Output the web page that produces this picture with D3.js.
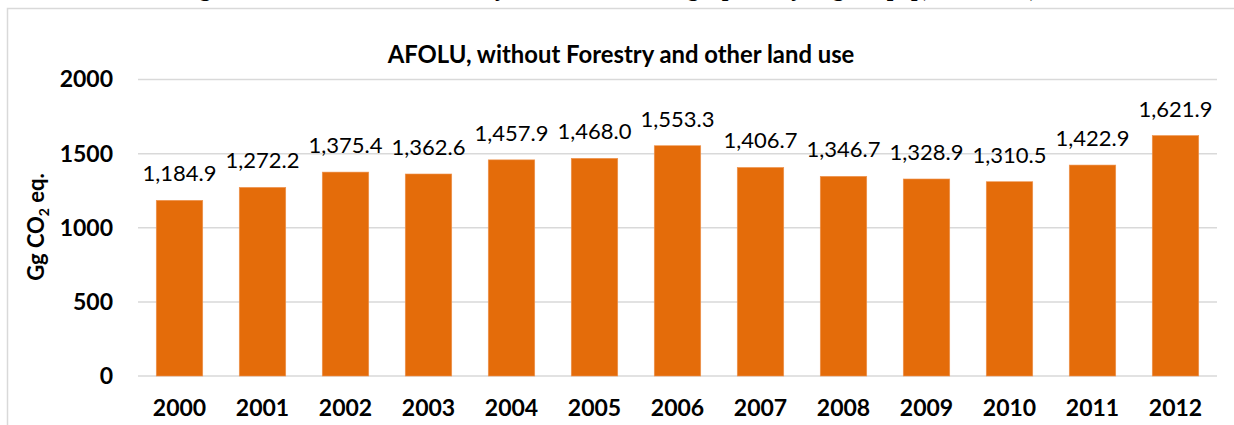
<!DOCTYPE html>
<html>
<head>
<meta charset="utf-8">
<script src="https://cdn.jsdelivr.net/npm/d3@7"></script>
<style>
  html, body { margin: 0; padding: 0; background: #fff; }
  svg { display: block; }
</style>
</head>
<body>
<svg id="chart" width="1234" height="425"></svg>
<script>
// AFOLU emissions (without Forestry and other land use), Gg CO2 eq.
const years = ["2000", "2001", "2002", "2003", "2004", "2005", "2006",
               "2007", "2008", "2009", "2010", "2011", "2012"];
const emissions = [1184.9, 1272.2, 1375.4, 1362.6, 1457.9, 1468.0, 1553.3,
                   1406.7, 1346.7, 1328.9, 1310.5, 1422.9, 1621.9];
const yTicks = [0, 500, 1000, 1500, 2000];

const sans = "Lato, 'Open Sans', sans-serif";
const barColor = "#E46C0A";
const gridColor = "#D9D9D9";

const svg = d3.select("#chart");

// Caption line of the surrounding document (runs off the top edge)
svg.append("text")
  .attr("x", 178).attr("y", -4)
  .attr("font-family", "'Liberation Serif', 'Times New Roman', serif")
  .attr("font-weight", "bold")
  .attr("font-size", 24)
  .attr("fill", "#000")
  .text("Figure 12: AFOLU emissions by subsector shown graphically, Gg CO\u2082eq(2000-2012)");

// Chart frame
svg.append("path")
  .attr("d", "M7.5,430 V8.5 H1240")
  .attr("fill", "none")
  .attr("stroke", gridColor)
  .attr("stroke-width", 1.5);

const margin = { left: 138, right: 1217, top: 79.5, bottom: 376 };

const x = d3.scaleBand()
  .domain(years)
  .range([margin.left, margin.right])
  .paddingInner(0.44)
  .paddingOuter(0.22);

const y = d3.scaleLinear()
  .domain([0, 2000])
  .range([margin.bottom, margin.top]);

// Gridlines
svg.append("g")
  .selectAll("line")
  .data(yTicks)
  .join("line")
  .attr("x1", margin.left).attr("x2", margin.right)
  .attr("y1", d => y(d)).attr("y2", d => y(d))
  .attr("stroke", gridColor)
  .attr("stroke-width", 1.5);

// Y axis labels
const yAxis = svg.append("g")
  .attr("transform", `translate(${margin.left - 25},0)`)
  .call(d3.axisLeft(y).tickValues(yTicks).tickSize(0).tickPadding(0).tickFormat(d3.format("d")));
yAxis.select(".domain").remove();
yAxis.selectAll("text")
  .attr("font-family", sans)
  .attr("font-weight", "bold")
  .attr("font-size", 23)
  .attr("fill", "#000");

// X axis labels
const xAxis = svg.append("g")
  .attr("transform", `translate(0,${margin.bottom})`)
  .call(d3.axisBottom(x).tickSize(0).tickPadding(24));
xAxis.select(".domain").remove();
xAxis.selectAll("text")
  .attr("font-family", sans)
  .attr("font-weight", "bold")
  .attr("font-size", 23)
  .attr("fill", "#000");

// Bars
svg.append("g")
  .selectAll("rect")
  .data(emissions)
  .join("rect")
  .attr("x", (d, i) => x(years[i]))
  .attr("y", d => y(d))
  .attr("width", x.bandwidth())
  .attr("height", d => y(0) - y(d))
  .attr("fill", barColor)
  .attr("stroke", "#EE9450")
  .attr("stroke-width", 0.6);

// Value labels
const fmt = d3.format(",.1f");
svg.append("g")
  .selectAll("text")
  .data(emissions)
  .join("text")
  .attr("x", (d, i) => x(years[i]) + x.bandwidth() / 2)
  .attr("y", d => y(d) - 19)
  .attr("text-anchor", "middle")
  .attr("font-family", sans)
  .attr("font-size", 22)
  .attr("fill", "#000")
  .text(d => fmt(d));

// Chart title
const title = svg.append("text")
  .attr("x", 621).attr("y", 63)
  .attr("text-anchor", "middle")
  .attr("font-family", sans)
  .attr("font-weight", "bold")
  .attr("font-size", 20)
  .attr("fill", "#000")
  .text("AFOLU, without Forestry and other land use");
const tw = title.node().getComputedTextLength();
title.attr("font-size", 20 * 467 / tw);

// Y axis title
const yTitle = svg.append("text")
  .attr("transform", "translate(44,227) rotate(-90)")
  .attr("text-anchor", "middle")
  .attr("font-family", sans)
  .attr("font-weight", "bold")
  .attr("font-size", 22)
  .attr("fill", "#000");
yTitle.append("tspan").text("Gg CO");
yTitle.append("tspan").attr("font-size", 14).attr("dy", 5).text("2");
yTitle.append("tspan").attr("dy", -5).text(" eq.");
</script>
</body>
</html>
